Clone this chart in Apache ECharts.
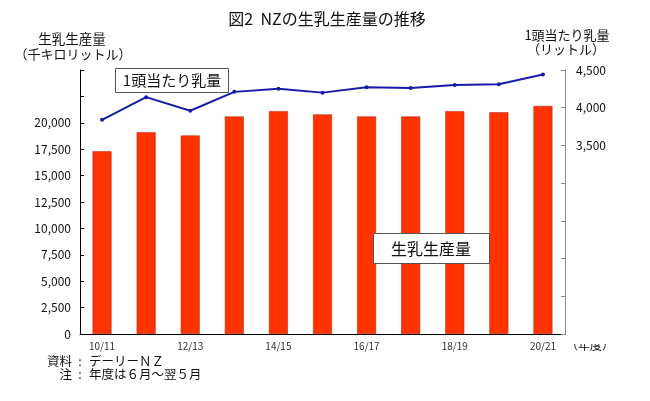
<!DOCTYPE html>
<html>
<head>
<meta charset="utf-8">
<script src="https://cdn.jsdelivr.net/npm/echarts@6/dist/echarts.min.js"></script>
<style>
html,body{margin:0;padding:0;background:#fff;}
#c{width:650px;height:401px;}
</style>
</head>
<body>
<div id="c"></div>
<script>
const categories = ['10/11','11/12','12/13','13/14','14/15','15/16','16/17','17/18','18/19','19/20','20/21'];
const milkProduction = [17300, 19100, 18800, 20600, 21100, 20800, 20600, 20600, 21100, 21000, 21600];
const milkPerCow = [3840, 4140, 3960, 4210, 4250, 4200, 4270, 4260, 4300, 4310, 4440];
const leftTickLabels = [0, 2500, 5000, 7500, 10000, 12500, 15000, 17500, 20000];
const rightTickLabels = [3500, 4000, 4500];

const FONT = '"Noto Sans CJK JP", "Noto Sans", sans-serif';
const chart = echarts.init(document.getElementById('c'), null, {renderer: 'canvas'});

chart.setOption({
  animation: false,
  backgroundColor: '#fff',
  textStyle: {fontFamily: FONT},
  grid: {left: 80, right: 85, top: 70, bottom: 67, containLabel: false},
  xAxis: {
    type: 'category',
    data: categories,
    axisLine: {lineStyle: {color: '#000', width: 1}},
    axisTick: {show: false},
    axisLabel: {interval: 1, color: '#333', fontSize: 10, margin: 7, fontFamily: FONT}
  },
  yAxis: [{
    type: 'value',
    min: 0, max: 25000, interval: 2500,
    position: 'left',
    axisLine: {show: true, lineStyle: {color: '#000', width: 1}},
    axisTick: {show: true, inside: true, length: 4, lineStyle: {color: '#000'}},
    splitLine: {show: false},
    axisLabel: {
      color: '#111', fontSize: 12, margin: 9, fontFamily: FONT,
      formatter: v => leftTickLabels.includes(v) ? v.toLocaleString('en-US') : ''
    }
  }, {
    type: 'value',
    min: 1000, max: 4500, interval: 500,
    position: 'right',
    axisLine: {show: true, lineStyle: {color: '#888', width: 1}},
    axisTick: {show: true, inside: true, length: 4, lineStyle: {color: '#888'}},
    splitLine: {show: false},
    axisLabel: {
      color: '#111', fontSize: 12, margin: 11, fontFamily: FONT,
      formatter: v => rightTickLabels.includes(v) ? v.toLocaleString('en-US') : ''
    }
  }],
  series: [{
    name: '生乳生産量',
    type: 'bar',
    yAxisIndex: 0,
    data: milkProduction,
    barWidth: 19,
    itemStyle: {color: '#ff3300', borderColor: '#b03020', borderWidth: 0.6}
  }, {
    name: '1頭当たり乳量',
    type: 'line',
    yAxisIndex: 1,
    data: milkPerCow,
    symbol: 'circle',
    symbolSize: 4,
    lineStyle: {color: '#1a1aa8', width: 2},
    itemStyle: {color: '#1a1aa8'},
    z: 5
  }],
  graphic: [
    {type: 'text', x: 327, y: 18.5, style: {text: '図2  NZの生乳生産量の推移', font: '16px ' + FONT, fill: '#111', align: 'center', verticalAlign: 'middle'}},
    {type: 'text', x: 72, y: 39, style: {text: '生乳生産量', font: '13.5px ' + FONT, fill: '#111', align: 'center', verticalAlign: 'middle'}},
    {type: 'text', x: 73, y: 54, style: {text: '（千キロリットル）', font: '13px ' + FONT, fill: '#111', align: 'center', verticalAlign: 'middle'}},
    {type: 'text', x: 567, y: 35, style: {text: '1頭当たり乳量', font: '13px ' + FONT, fill: '#111', align: 'center', verticalAlign: 'middle'}},
    {type: 'text', x: 566, y: 49.5, style: {text: '（リットル）', font: '13px ' + FONT, fill: '#111', align: 'center', verticalAlign: 'middle'}},
    {type: 'rect', shape: {x: 115.5, y: 68.5, width: 113, height: 24}, style: {fill: '#fff', stroke: '#555', lineWidth: 1}, z: 10},
    {type: 'text', x: 172, y: 80.5, style: {text: '1頭当たり乳量', font: '15px ' + FONT, fill: '#111', align: 'center', verticalAlign: 'middle'}, z: 11},
    {type: 'rect', shape: {x: 373.5, y: 233.5, width: 116, height: 30}, style: {fill: '#fff', stroke: '#555', lineWidth: 1}, z: 10},
    {type: 'text', x: 431, y: 248.5, style: {text: '生乳生産量', font: '16px ' + FONT, fill: '#111', align: 'center', verticalAlign: 'middle'}, z: 11},
    {type: 'text', x: 590, y: 345, style: {text: '（年度）', font: '12px ' + FONT, fill: '#111', align: 'center', verticalAlign: 'middle'}, z: 11},
    {type: 'rect', shape: {x: 568, y: 336, width: 60, height: 8}, style: {fill: '#fff'}, z: 12},
    {type: 'text', x: 72, y: 361, style: {text: '資料', font: '12.5px ' + FONT, fill: '#111', align: 'right', verticalAlign: 'middle'}},
    {type: 'text', x: 80, y: 361, style: {text: ':', font: '12.5px ' + FONT, fill: '#111', align: 'center', verticalAlign: 'middle'}},
    {type: 'text', x: 89, y: 361, style: {text: 'デーリーＮＺ', font: '12.5px ' + FONT, fill: '#111', align: 'left', verticalAlign: 'middle'}},
    {type: 'text', x: 72, y: 374, style: {text: '注', font: '12.5px ' + FONT, fill: '#111', align: 'right', verticalAlign: 'middle'}},
    {type: 'text', x: 80, y: 374, style: {text: ':', font: '12.5px ' + FONT, fill: '#111', align: 'center', verticalAlign: 'middle'}},
    {type: 'text', x: 89, y: 374, style: {text: '年度は６月～翌５月', font: '12.5px ' + FONT, fill: '#111', align: 'left', verticalAlign: 'middle'}}
  ]
});
</script>
</body>
</html>
